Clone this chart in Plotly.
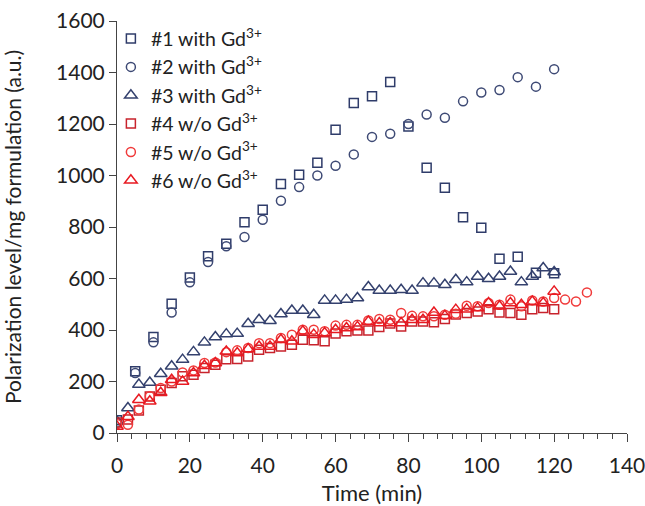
import plotly.graph_objects as go

# Time points (min)
t5 = [0, 5, 10, 15, 20, 25, 30, 35, 40, 45, 50, 55, 60, 65, 70, 75, 80, 85, 90, 95, 100, 105, 110, 115, 120]
t3 = [0, 3, 6, 9, 12, 15, 18, 21, 24, 27, 30, 33, 36, 39, 42, 45, 48, 51, 54, 57, 60, 63, 66, 69, 72, 75, 78, 81,
      84, 87, 90, 93, 96, 99, 102, 105, 108, 111, 114, 117, 120]
t3_long = t3 + [123, 126, 129]

# Series values (a.u.)
s1 = [50, 240, 373, 502, 604, 686, 735, 818, 867, 967, 1003, 1050, 1178, 1282, 1308, 1363, 1190, 1030, 952, 838,
      797, 677, 684, 622, 620]
s2 = [40, 233, 352, 468, 585, 664, 725, 761, 828, 902, 955, 1000, 1038, 1082, 1150, 1162, 1200, 1237, 1224, 1288,
      1322, 1332, 1382, 1345, 1413]
s3 = [45, 97, 188, 196, 230, 259, 285, 315, 352, 373, 384, 386, 424, 440, 436, 462, 476, 476, 459, 515, 515, 518,
      524, 567, 553, 553, 556, 553, 582, 582, 576, 595, 586, 608, 599, 608, 627, 586, 608, 641, 625]
s4 = [41, 52, 87, 142, 168, 194, 220, 226, 252, 265, 286, 287, 297, 323, 330, 336, 343, 362, 360, 356, 386, 395,
      398, 398, 412, 425, 414, 433, 433, 430, 443, 460, 466, 472, 481, 468, 466, 459, 481, 485, 481]
s5 = [35, 32, 91, 143, 175, 200, 235, 243, 272, 274, 314, 321, 330, 349, 349, 369, 382, 401, 401, 395, 417, 420,
      420, 437, 443, 440, 466, 455, 453, 453, 459, 463, 494, 492, 505, 498, 518, 492, 515, 511, 524, 518, 511, 546]
s6 = [25, 63, 129, 123, 156, 207, 200, 233, 261, 272, 317, 311, 326, 336, 336, 362, 356, 395, 382, 388, 401, 408,
      412, 433, 427, 427, 427, 440, 440, 468, 455, 479, 481, 485, 505, 492, 505, 498, 511, 505, 550]

names = ["#1 with Gd<sup>3+</sup>", "#2 with Gd<sup>3+</sup>", "#3 with Gd<sup>3+</sup>",
         "#4 w/o Gd<sup>3+</sup>", "#5 w/o Gd<sup>3+</sup>", "#6 w/o Gd<sup>3+</sup>"]

xs = [t5, t5, t3, t3, t3_long, t3]
ys = [s1, s2, s3, s4, s5, s6]
symbols = ["square-open", "circle-open", "triangle-up-open", "square-open", "circle-open", "triangle-up-open"]
sizes = [9, 9, 11, 9, 9, 11]
colors = ["#2F3C6A", "#3E4A75", "#34416E", "#C8232C", "#F03A3A", "#E81A22"]

fig = go.Figure()
for x, y, n, sym, sz, c in zip(xs, ys, names, symbols, sizes, colors):
    fig.add_trace(go.Scatter(
        x=x, y=y, name=n, mode="markers",
        marker=dict(symbol=sym, size=sz, color=c, line=dict(color=c, width=1.5)),
    ))

font_family = "Lato, 'Noto Sans', sans-serif"

fig.update_layout(
    width=645, height=506,
    margin=dict(l=117, r=18, t=21, b=73),
    paper_bgcolor="white", plot_bgcolor="white",
    font=dict(family=font_family, size=20, color="#222222"),
    showlegend=True,
    legend=dict(
        x=-0.012, y=1.004, xanchor="left", yanchor="top",
        bgcolor="rgba(0,0,0,0)", font=dict(size=19.5, color="#222222"),
        itemwidth=30, tracegroupgap=0,
    ),
    xaxis=dict(
        range=[0, 140], dtick=20, tick0=0, automargin=False,
        showgrid=False, zeroline=False,
        showline=True, linecolor="#444444", linewidth=1,
        ticks="outside", ticklen=8, tickcolor="#444444",
        ticklabeloverflow="allow", ticklabelstandoff=6,
        minor=dict(dtick=4, ticks="outside", ticklen=5, tickcolor="#444444", showgrid=False),
        title=dict(text="Time (min)", font=dict(size=22), standoff=13),
        tickfont=dict(size=21),
    ),
    yaxis=dict(
        range=[0, 1600], dtick=200, automargin=False,
        showgrid=False, zeroline=False,
        showline=True, linecolor="#444444", linewidth=1,
        ticks="outside", ticklen=7, tickcolor="#444444",
        ticklabeloverflow="allow",
        title=dict(text="Polarization level/mg formulation (a.u.)", font=dict(size=21), standoff=28),
        tickfont=dict(size=21),
    ),
)

# remove the browser's default 8px page margin so the 645x506 figure fills the window exactly
fig.write_html(
    "out.html",
    config={"displayModeBar": False},
    post_script="document.body.style.margin='0';document.body.style.overflow='hidden';",
)
